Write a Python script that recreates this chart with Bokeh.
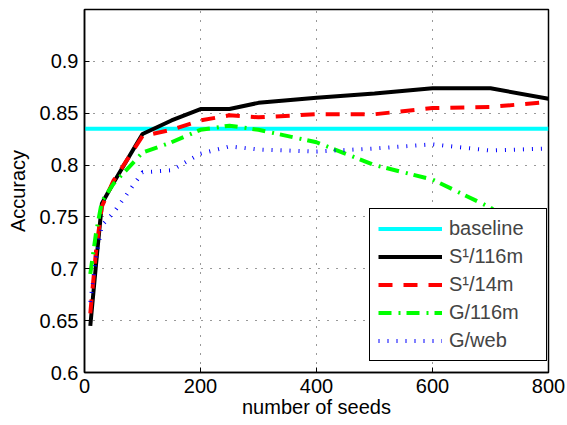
from bokeh.plotting import figure
from bokeh.models import FixedTicker, Legend, LegendItem
from bokeh.embed import file_html
from bokeh.resources import INLINE

# ---- data ----
seeds = [10, 20, 30, 50, 100, 150, 200, 250, 300, 400, 500, 600, 700, 800]
baseline_x = [0, 800]
baseline_y = [0.835, 0.835]
s1_116m = [0.645, 0.705, 0.763, 0.783, 0.830, 0.843, 0.854, 0.854, 0.860, 0.865, 0.869, 0.874, 0.874, 0.864]
s1_14m = [0.657, 0.718, 0.760, 0.785, 0.828, 0.834, 0.843, 0.848, 0.846, 0.849, 0.849, 0.855, 0.856, 0.861]
g_116m = [0.695, 0.735, 0.765, 0.782, 0.812, 0.822, 0.834, 0.838, 0.834, 0.822, 0.800, 0.786, 0.759, 0.718]
g_web = [0.668, 0.710, 0.742, 0.754, 0.793, 0.795, 0.811, 0.818, 0.815, 0.813, 0.816, 0.820, 0.814, 0.816]
labels = ["baseline", "S\u00b9/116m", "S\u00b9/14m", "G/116m", "G/web"]
xticks = [0, 200, 400, 600, 800]
yticks = [0.6, 0.65, 0.7, 0.75, 0.8, 0.85, 0.9]
ytick_labels = ["0.6", "0.65", "0.7", "0.75", "0.8", "0.85", "0.9"]
xlabel = "number of seeds"
ylabel = "Accuracy"

FONT = "Liberation Sans"
FS = "20px"

p = figure(frame_width=464, frame_height=363, x_range=(0, 800), y_range=(0.6, 0.95),
           output_backend="svg", toolbar_location=None,
           min_border_left=84, min_border_right=18, min_border_top=9, min_border_bottom=40,
           background_fill_color="white", border_fill_color="white")

p.outline_line_color = "black"
p.outline_line_width = 1.5
p.outline_line_alpha = 1

for ax in (p.xaxis[0], p.yaxis[0]):
    ax.major_tick_in = 5
    ax.major_tick_out = 0
    ax.minor_tick_line_color = None
    ax.axis_line_color = "black"
    ax.axis_line_width = 1.5
    ax.major_tick_line_color = "black"
    ax.major_label_text_font = FONT
    ax.major_label_text_font_size = FS
    ax.major_label_text_color = "black"
    ax.axis_label_text_font = FONT
    ax.axis_label_text_font_size = FS
    ax.axis_label_text_font_style = "normal"
    ax.axis_label_text_color = "black"

p.xaxis.ticker = FixedTicker(ticks=xticks)
p.yaxis.ticker = FixedTicker(ticks=yticks)
p.yaxis.major_label_overrides = {t: l for t, l in zip(yticks, ytick_labels)}
p.xaxis.axis_label = xlabel
p.yaxis.axis_label = ylabel
p.xaxis.major_label_standoff = 6
p.xaxis.axis_label_standoff = 0
p.yaxis.major_label_standoff = 6
p.yaxis.axis_label_standoff = 8

for g in (p.xgrid[0], p.ygrid[0]):
    g.grid_line_color = "#333333"
    g.grid_line_dash = "1 8"
    g.grid_line_width = 1

r0 = p.line(baseline_x, baseline_y, line_color="#00FFFF", line_width=4)
r1 = p.line(seeds, s1_116m, line_color="black", line_width=4)
r2 = p.line(seeds, s1_14m, line_color="#FF0000", line_width=4, line_dash="14 11")
r3 = p.line(seeds, g_116m, line_color="#00FF00", line_width=4, line_dash="13 7 2 6")
r4 = p.line(seeds, g_web, line_color="#0000FF", line_width=4, line_dash="1 8")

legend = Legend(items=[LegendItem(label=l, renderers=[r]) for l, r in zip(labels, [r0, r1, r2, r3, r4])],
                location=(285, 11), margin=0, padding=8, spacing=5,
                glyph_width=64, glyph_height=23, label_height=23, label_width=89,
                label_standoff=7, label_text_font=FONT, label_text_font_size=FS,
                border_line_color="black", border_line_width=1.5, border_line_alpha=1,
                background_fill_color="white", background_fill_alpha=1)
p.add_layout(legend, "center")

open("out.html", "w").write(file_html(p, INLINE))
